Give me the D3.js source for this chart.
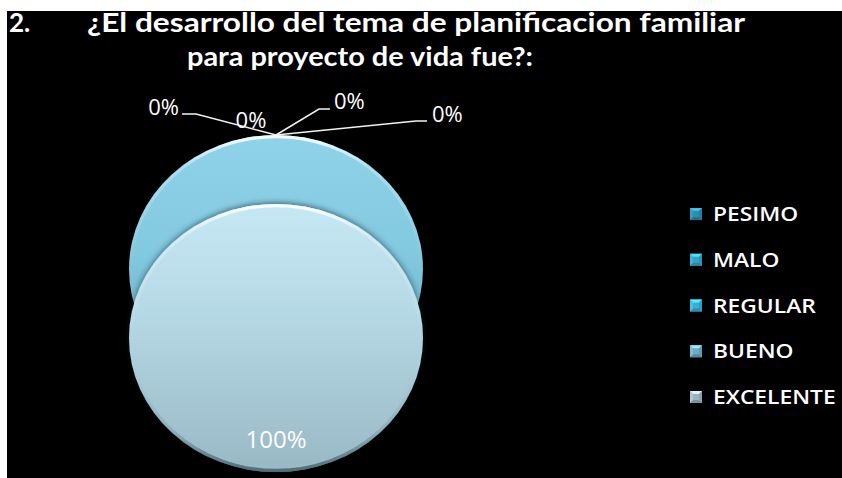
<!DOCTYPE html>
<html>
<head>
<meta charset="utf-8">
<script src="https://cdn.jsdelivr.net/npm/d3@7/dist/d3.min.js"></script>
<style>
  html, body { margin: 0; padding: 0; background: #ffffff; }
  svg { display: block; }
</style>
</head>
<body>
<svg id="chart" width="842" height="478"></svg>
<script>
// Survey answers and their shares
const categories = ["PESIMO", "MALO", "REGULAR", "BUENO", "EXCELENTE"];
const percentages = [0, 0, 0, 0, 100];
const sliceColors = ["#2f8cab", "#36a3c4", "#3bafd1", "#6eabc0", "#9cb3be"];
const titleNumber = "2.";
const titleLines = [
  "¿El desarrollo del tema de planificacion familiar",
  "para proyecto de vida fue?:"
];

const W = 842, H = 478;
const svg = d3.select("#chart");
const defs = svg.append("defs");

// black panel with a thin white margin on the left and top
svg.append("rect").attr("x", 7).attr("y", 11).attr("width", W - 7).attr("height", H - 11).attr("fill", "#000");

// ---- title ----
const title = svg.append("g").attr("fill", "#fff")
  .style("font-family", "Lato, 'Open Sans', sans-serif").style("font-weight", 700).style("font-size", "26px");
title.append("text").attr("x", 9).attr("y", 32).text(titleNumber);
title.append("text").attr("x", 87).attr("y", 32)
  .attr("textLength", 658).attr("lengthAdjust", "spacingAndGlyphs").text(titleLines[0]);
title.append("text").attr("x", 187).attr("y", 66)
  .attr("textLength", 346).attr("lengthAdjust", "spacingAndGlyphs").text(titleLines[1]);

// ---- pie ----
const cx = 276, cy = 269, rx = 147, ry = 134;
const k = ry / rx;
const explode = 0.515 * rx;

const data = categories.map((c, i) => ({ name: c, value: percentages[i], color: sliceColors[i] }));
const pie = d3.pie().sort(null).value(d => d.value);
const arcs = pie(data);
const arc = d3.arc().innerRadius(0).outerRadius(rx);

// screen position of a polar point on the tilted (elliptical) pie
const pt = (a, r, ox = 0, oy = 0) => [cx + ox + r * Math.sin(a), cy + oy - r * Math.cos(a) * k];

// gradients
function vGrad(id, stops) {
  const g = defs.append("linearGradient").attr("id", id).attr("x1", 0).attr("y1", 0).attr("x2", 0).attr("y2", 1);
  stops.forEach(s => g.append("stop").attr("offset", s[0]).attr("stop-color", s[1]).attr("stop-opacity", s[2] == null ? 1 : s[2]));
}
vGrad("baseFill", [[0, "#8fd3ea"], [0.45, "#82c8de"], [1, "#5b9fb6"]]);
vGrad("frontFill", [[0, "#c6e8f4"], [0.4, "#b6d9e6"], [1, "#98b8c4"]]);
vGrad("rim", [[0, "#ffffff", 0.95], [0.12, "#ffffff", 0.3], [0.5, "#ffffff", 0], [0.85, "#1d3a44", 0.15], [1, "#1d3a44", 0.6]]);

const shadow = defs.append("filter").attr("id", "soft").attr("x", "-20%").attr("y", "-20%").attr("width", "140%").attr("height", "140%");
shadow.append("feDropShadow").attr("dx", 0).attr("dy", -2).attr("stdDeviation", 3)
  .attr("flood-color", "#0b2a35").attr("flood-opacity", 0.55);

// pie in its resting position (base disc)
const full = { startAngle: 0, endAngle: 2 * Math.PI };
const baseG = svg.append("g").attr("transform", `translate(${cx},${cy}) scale(1,${k})`);
defs.append("clipPath").attr("id", "clipBase").append("path").attr("d", arc(full));
baseG.append("path").attr("d", arc(full)).attr("fill", "url(#baseFill)");
baseG.append("path").attr("d", arc(full)).attr("fill", "none")
  .attr("stroke", "url(#rim)").attr("stroke-width", 7).attr("clip-path", "url(#clipBase)");

// exploded slices
arcs.filter(a => a.value > 0).forEach((a, i) => {
  const mid = (a.startAngle + a.endAngle) / 2;
  const ox = explode * Math.sin(mid), oy = -explode * Math.cos(mid) * k;
  const g = svg.append("g").attr("transform", `translate(${cx + ox},${cy + oy}) scale(1,${k})`);
  const id = "clipSlice" + i;
  defs.append("clipPath").attr("id", id).append("path").attr("d", arc(a));
  g.append("path").attr("d", arc(a)).attr("fill", "url(#frontFill)").attr("filter", "url(#soft)");
  g.append("path").attr("d", arc(a)).attr("fill", "none")
    .attr("stroke", "url(#rim)").attr("stroke-width", 7).attr("clip-path", `url(#${id})`);
  const [lx, ly] = pt(mid, 0.76 * rx, ox, oy);
  svg.append("text").attr("x", lx).attr("y", ly).attr("dy", "0.36em").attr("text-anchor", "middle")
    .attr("fill", "#fff").style("font-family", "'Open Sans', sans-serif").style("font-size", "24px")
    .text(d3.format(".0%")(a.value / 100));
});

// labels of the empty slices, led out from their point on the rim
const zeroLabelLayout = [
  { elbow: [-80, -21], end: [-94, -21], text: [-97, -20], anchor: "end" },
  { elbow: null, end: null, text: [-25, -7], anchor: "middle" },
  { elbow: [43, -26], end: [54, -26], text: [58, -26], anchor: "start" },
  { elbow: [140, -14], end: [151, -14], text: [156, -13], anchor: "start" }
];
const zeroArcs = arcs.filter(a => a.value === 0);
zeroArcs.forEach((a, i) => {
  const L = zeroLabelLayout[i];
  const [px, py] = pt((a.startAngle + a.endAngle) / 2, rx);
  if (L.elbow) {
    svg.append("polyline")
      .attr("points", [[px, py], [px + L.elbow[0], py + L.elbow[1]], [px + L.end[0], py + L.end[1]]].map(p => p.join(",")).join(" "))
      .attr("fill", "none").attr("stroke", "#f2f2f2").attr("stroke-width", 1.6);
  }
  svg.append("text").attr("x", px + L.text[0]).attr("y", py + L.text[1]).attr("text-anchor", L.anchor)
    .attr("fill", "#fff").style("font-family", "'Open Sans', sans-serif").style("font-size", "22px")
    .text(d3.format(".0%")(a.value / 100));
});

// ---- legend ----
const legendY = d3.scalePoint().domain(categories).range([214, 397]);
const legend = svg.append("g");
categories.forEach((c, i) => {
  const y = legendY(c);
  const g = legend.append("g").attr("transform", `translate(690,${y - 6})`);
  const col = d3.color(sliceColors[i]);
  g.append("rect").attr("width", 12).attr("height", 12).attr("fill", col.formatHex());
  g.append("polygon").attr("points", "0,0 12,0 9,3 3,3").attr("fill", col.brighter(0.9).formatHex());
  g.append("polygon").attr("points", "0,12 12,12 9,9 3,9").attr("fill", col.darker(0.6).formatHex());
  g.append("polygon").attr("points", "0,0 3,3 3,9 0,12").attr("fill", col.brighter(0.3).formatHex());
  g.append("polygon").attr("points", "12,0 9,3 9,9 12,12").attr("fill", col.darker(0.3).formatHex());
  const t = legend.append("text").attr("x", 713).attr("y", y + 7)
    .attr("fill", "#fff").style("font-family", "'Open Sans', sans-serif").style("font-size", "19px").style("font-weight", 600)
    .text(c);
  const w = t.node().getComputedTextLength();
  t.attr("textLength", w * 1.2).attr("lengthAdjust", "spacingAndGlyphs");
});
</script>
</body>
</html>
